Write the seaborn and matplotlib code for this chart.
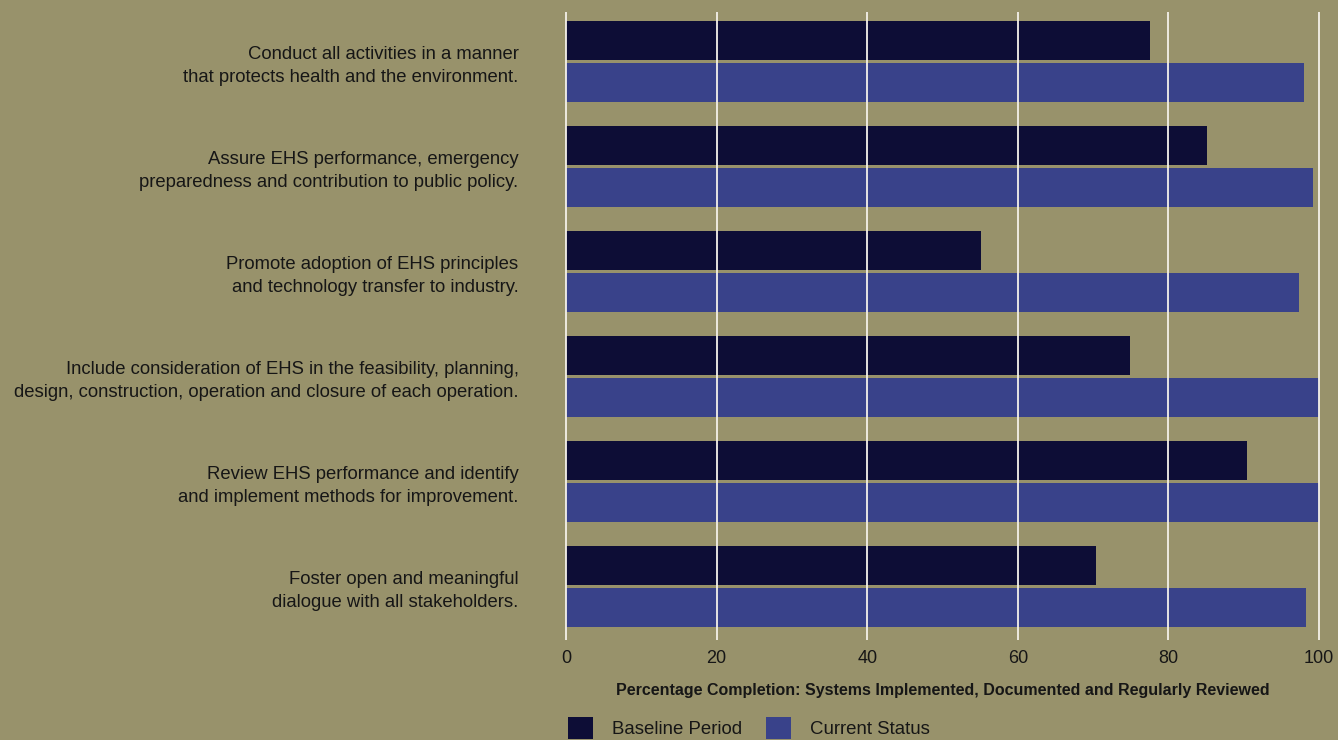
import matplotlib
matplotlib.use("Agg")
import matplotlib.pyplot as plt
import seaborn as sns
import pandas as pd

principles = [
    "Conduct all activities in a manner\nthat protects health and the environment.",
    "Assure EHS performance, emergency\npreparedness and contribution to public policy.",
    "Promote adoption of EHS principles\nand technology transfer to industry.",
    "Include consideration of EHS in the feasibility, planning,\ndesign, construction, operation and closure of each operation.",
    "Review EHS performance and identify\nand implement methods for improvement.",
    "Foster open and meaningful\ndialogue with all stakeholders.",
]
baseline = [77.6, 85.1, 55.1, 74.9, 90.4, 70.4]
current = [98.0, 99.2, 97.3, 100.0, 100.0, 98.3]
series_names = ["Baseline Period", "Current Status"]
xticks = [0, 20, 40, 60, 80, 100]

bg = "#98926b"
colors = {"Baseline Period": "#0d0d36", "Current Status": "#39428a"}
text_color = "#161616"

df = pd.DataFrame({
    "principle": principles * 2,
    "value": baseline + current,
    "series": [series_names[0]] * len(principles) + [series_names[1]] * len(principles),
})

sns.set_theme(style="white")
plt.rcParams["font.family"] = ["Liberation Sans", "DejaVu Sans"]

fig = plt.figure(figsize=(13.38, 7.40), dpi=100, facecolor=bg)
ax = fig.add_axes([563.7 / 1338, 1 - 640 / 740, (1321.3 - 563.7) / 1338, (640 - 12) / 740])
ax.set_facecolor(bg)

sns.barplot(data=df, x="value", y="principle", hue="series", orient="h",
            palette=colors, width=0.8, gap=0.06, saturation=1,
            edgecolor="none", linewidth=0, ax=ax, legend=True)

ax.set_xlim(-0.3, 100.3)
ax.set_ylim(5.51, -0.47)
ax.set_xticks(xticks)
ax.set_xticklabels([str(t) for t in xticks], fontsize=13, color=text_color)
ax.tick_params(axis="x", length=0, pad=7)
ax.tick_params(axis="y", length=0, pad=32.5)
for lbl in ax.get_yticklabels():
    lbl.set_fontsize(13.3)
    lbl.set_color(text_color)
    lbl.set_horizontalalignment("right")
    lbl.set_multialignment("right")
    lbl.set_linespacing(1.42)

ax.xaxis.grid(True, color="#f4f1ea", linewidth=1.3)
ax.yaxis.grid(False)
ax.set_axisbelow(False)
for s in ax.spines.values():
    s.set_visible(False)

ax.set_ylabel("")
ax.set_xlabel("Percentage Completion: Systems Implemented, Documented and Regularly Reviewed",
              fontsize=11.5, fontweight="bold", color=text_color, labelpad=12)

handles, labels = ax.get_legend_handles_labels()
ax.get_legend().remove()
fig.legend(handles, labels, loc="center left",
           bbox_to_anchor=(568 / 1338, 1 - 728 / 740),
           ncol=2, frameon=False, fontsize=13.4, labelcolor=text_color,
           handlelength=1.35, handleheight=1.45, handletextpad=1.0,
           columnspacing=1.3, borderaxespad=0, borderpad=0)

fig.savefig("out.png", dpi=100, facecolor=bg)
